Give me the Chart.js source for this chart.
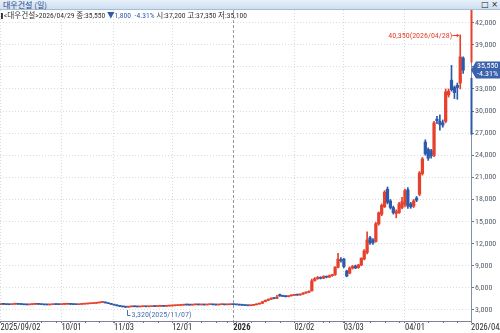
<!DOCTYPE html>
<html><head><meta charset="utf-8">
<script src="https://cdn.jsdelivr.net/npm/chart.js@4.4.1/dist/chart.umd.min.js"></script>
<style>
html,body{margin:0;padding:0;background:#fff;}
#wrap{position:relative;width:500px;height:333px;overflow:hidden;background:#fff;}
#title{position:absolute;left:0;top:0;width:500px;height:9px;background:linear-gradient(#e7f0fa,#cddff1);border-bottom:1px solid #a7bcd6;font:8px "Noto Sans CJK KR",sans-serif;line-height:9px;color:#27457c;}
#title .t{position:absolute;left:3px;top:0;}
#title .ic{position:absolute;right:2px;top:0;color:#222;font:8px "DejaVu Sans",sans-serif;line-height:9px;}
#info{position:absolute;left:1px;top:11px;font:8px "Roboto Condensed","Noto Sans CJK KR",sans-serif;line-height:10px;color:#333;white-space:nowrap;transform-origin:0 50%;}
#info .mk{display:inline-block;width:2px;height:6px;background:#333;margin-right:1px;vertical-align:-1px;}
#info .dn{color:#2d5aab;}
canvas{position:absolute;left:0;top:0;}
</style></head>
<body><div id="wrap">
<canvas id="c" width="500" height="333"></canvas>
<div id="title"><span class="t">대우건설 (일)</span><span class="ic">□ ×</span></div>
<div id="info"><span class="mk"></span>&lt;대우건설&gt;2026/04/29 종:35,550 <span class="dn">▼1,800 &nbsp;-4.31%</span> 시:37,200 고:37,350 저:35,100</div>
</div>
<script>
// ---- data ----
const HOLIDAYS = ['2025-10-03','2025-10-06','2025-10-07','2025-10-08','2025-10-09','2025-12-25','2025-12-31','2026-01-01','2026-02-16','2026-02-17','2026-02-18','2026-03-02'];
const openVals = [
3740,3770,3760,3730,3720,3780,3800,3770,3750,3710,3700,3740,3770,3790,3760,3730,3700,3690,3720,3750,3740,
3730,3760,3780,3800,3760,3740,3720,3760,3790,3820,3850,3870,3910,3960,4030,4060,3960,3860,
3760,3660,3560,3480,3420,3380,3430,3460,3440,3420,3450,3470,3440,3450,3480,3470,3500,3520,3490,3530,
3550,3580,3600,3620,3650,3700,3680,3660,3700,3730,3690,3700,3680,3720,3750,3700,3680,3720,3740,3700,3720,
3740,3720,3700,3670,3640,3600,3580,3630,3700,3800,3900,4120,4300,4450,4600,4560,5100,4950,4900,4800,4920,
4980,5050,5020,5150,5300,5400,5600,7000,7250,7400,7300,7550,7450,7650,7800,8800,9800,
9900,8300,8000,8700,8950,8750,9100,9900,10800,12800,12500,12300,14700,16000,17000,19400,17800,16900,16100,16200,16900,
17300,19300,17400,17100,18200,18700,21500,25800,24800,24600,24000,28900,28600,28400,28600,32200,34200,33200,33500,33800,37200];
const highVals = [
3790,3800,3780,3760,3790,3830,3820,3790,3770,3740,3760,3790,3810,3800,3780,3750,3720,3740,3770,3780,3760,
3780,3790,3820,3810,3780,3760,3770,3800,3830,3860,3890,3930,3980,4050,4110,4080,3980,3870,
3780,3680,3590,3510,3450,3450,3480,3490,3470,3470,3490,3480,3470,3500,3510,3520,3540,3530,3540,3570,
3590,3620,3640,3660,3720,3730,3700,3720,3750,3740,3720,3710,3740,3770,3760,3720,3740,3760,3750,3740,3760,
3780,3750,3720,3690,3660,3630,3650,3720,3820,3920,4150,4350,4500,4650,4680,5000,5150,5000,4950,4950,5050,
5100,5120,5200,5350,5450,5600,7200,7400,7550,7500,7650,7600,7750,7850,8900,10700,10100,
10000,8400,8850,9050,9100,9200,10100,11200,13600,13000,12700,14900,16300,17400,19200,19700,18000,17100,16600,17600,18300,
19400,19600,17600,18000,18400,21800,23700,26100,25000,24800,28600,29300,29500,28800,33000,33000,36200,33400,33800,40350,37350];
const lowVals = [
3720,3740,3710,3700,3710,3760,3760,3730,3700,3680,3690,3730,3750,3750,3720,3690,3670,3680,3710,3720,3710,
3720,3740,3760,3750,3720,3700,3710,3750,3780,3800,3830,3860,3900,3940,4000,3940,3840,3740,
3640,3540,3460,3400,3320,3360,3410,3420,3400,3400,3430,3420,3410,3440,3450,3460,3480,3480,3480,3510,
3530,3560,3580,3600,3640,3660,3640,3650,3690,3680,3670,3660,3670,3710,3690,3660,3670,3710,3690,3690,3700,
3710,3690,3660,3620,3580,3550,3560,3620,3690,3780,3880,4100,4250,4400,4500,4540,4850,4800,4750,4780,4880,
4950,4980,5000,5120,5250,5350,5550,6900,7150,7200,7250,7350,7400,7550,7700,8700,9500,
8700,7500,7900,8550,8600,8650,9000,9800,10600,11900,11900,12200,14500,15800,16900,17400,16700,16000,15500,16100,16700,
17000,16800,16800,16900,17700,18500,21300,24000,23300,23600,23800,28300,27400,27800,28400,31900,32700,31700,31600,33000,35100];
const closeVals = [
3770,3760,3730,3720,3780,3800,3770,3750,3710,3700,3740,3770,3790,3760,3730,3700,3690,3720,3750,3740,3730,
3760,3770,3800,3760,3740,3720,3760,3790,3820,3850,3870,3910,3960,4030,4060,3960,3860,3760,
3660,3560,3480,3420,3380,3430,3460,3440,3420,3450,3470,3440,3450,3480,3470,3500,3520,3490,3530,3550,
3580,3600,3620,3650,3700,3680,3660,3700,3730,3690,3700,3680,3720,3750,3700,3680,3720,3740,3700,3720,3740,
3720,3700,3670,3640,3600,3580,3630,3700,3800,3900,4120,4300,4450,4600,4560,4750,4900,4850,4800,4920,4980,
5050,5020,5150,5300,5400,5500,6950,7250,7400,7300,7550,7450,7650,7750,8800,9900,9700,
8900,7600,8700,8900,8700,9100,10000,11000,12500,12100,12100,14700,16200,17200,19000,17600,16900,16200,16400,17400,17700,
19200,17100,17000,17800,17900,21600,23500,24200,23600,23900,28400,28700,28200,28100,32600,32700,32900,32500,33200,37350,35550];
const yTickVals = [3000,6000,9000,12000,15000,18000,21000,24000,27000,30000,33000,36000,39000,42000];
const maxNote = {price:40350, date:'2026/04/28'};
const minNote = {price:3320, date:'2025/11/07'};
const lastInfo = {price:35550, pct:'-4.31%'};
const axisRed = [36600, 43720];
const axisBlue = [26800, 34500];

// ---- trading calendar ----
function tradingDays(){
  const out=[]; let t=Date.UTC(2025,8,2); const end=Date.UTC(2026,3,29);
  while(t<=end){ const d=new Date(t); const wd=d.getUTCDay(); const s=d.toISOString().slice(0,10);
    if(wd!==0&&wd!==6&&!HOLIDAYS.includes(s)) out.push(s); t+=86400000; }
  return out;
}
const dates = tradingDays();
const N = closeVals.length;
const majorIdx=[], majorLab=[];
dates.forEach((d,i)=>{
  if(i===0){majorIdx.push(0);majorLab.push(d.replace(/-/g,'/'));return;}
  if(d.slice(5,7)!==dates[i-1].slice(5,7)){
    majorIdx.push(i);
    majorLab.push(d.slice(5,7)==='01' ? d.slice(0,4) : d.slice(5).replace('-','/'));
  }
});
const weekStart = dates.map((d,i)=> i>0 && (new Date(d).getUTCDay() <= new Date(dates[i-1]).getUTCDay()));
const XMIN=-0.17, XMAX=161.7;
const lastLabel = dates[N-1].replace(/-/g,'/');
const yearIdx = majorLab.indexOf('2026');

const UP='#e5412c', DOWN='#2d5aab';
const NARROW='"Roboto Condensed","DejaVu Sans Condensed",sans-serif';
const colorOf = i => closeVals[i] >= openVals[i] ? UP : DOWN;
const idx = closeVals.map((_,i)=>i);

// fit info line width
(function(){ const el=document.getElementById('info'); const w=el.getBoundingClientRect().width; if(w>0) el.style.transform='scaleX('+(246/w)+')'; })();

const overlay = {
  id:'overlay',
  afterDraw(chart){
    const {ctx, chartArea:a, scales:{x,y}} = chart;
    ctx.save();
    // weekly minor ticks
    ctx.strokeStyle='#6f7785'; ctx.lineWidth=1;
    weekStart.forEach((w,i)=>{ if(!w) return; const px=Math.round(x.getPixelForValue(i))+0.5;
      ctx.beginPath(); ctx.moveTo(px,a.bottom); ctx.lineTo(px,a.bottom+2); ctx.stroke(); });
    // axis colour segments
    const ax=a.right+0.5;
    ctx.lineWidth=2;
    ctx.strokeStyle=UP; ctx.beginPath(); ctx.moveTo(ax,y.getPixelForValue(axisRed[1])); ctx.lineTo(ax,y.getPixelForValue(axisRed[0])); ctx.stroke();
    ctx.strokeStyle=DOWN; ctx.beginPath(); ctx.moveTo(ax,y.getPixelForValue(axisBlue[1])); ctx.lineTo(ax,y.getPixelForValue(axisBlue[0])); ctx.stroke();
    // price box
    const py=Math.round(y.getPixelForValue(lastInfo.price));
    ctx.fillStyle='#3a62ad';
    ctx.beginPath(); ctx.moveTo(a.right,py); ctx.lineTo(a.right+5,py-8.5); ctx.lineTo(500,py-8.5); ctx.lineTo(500,py+8.5); ctx.lineTo(a.right+5,py+8.5); ctx.closePath(); ctx.fill();
    ctx.fillStyle='#fff'; ctx.font='8px '+NARROW; ctx.textAlign='left'; ctx.textBaseline='middle';
    ctx.fillText(lastInfo.price.toLocaleString('en-US'), a.right+6, py-4);
    ctx.fillText(lastInfo.pct, a.right+6, py+4);
    // max note
    const iMax = highVals.indexOf(maxNote.price);
    const mx=x.getPixelForValue(iMax), my=Math.round(y.getPixelForValue(maxNote.price))+0.5;
    ctx.strokeStyle=UP; ctx.fillStyle=UP; ctx.lineWidth=1;
    ctx.beginPath(); ctx.moveTo(mx-8,my); ctx.lineTo(mx-1.5,my); ctx.stroke();
    ctx.beginPath(); ctx.moveTo(mx-1,my); ctx.lineTo(mx-3.5,my-2); ctx.lineTo(mx-3.5,my+2); ctx.closePath(); ctx.fill();
    ctx.textAlign='right'; ctx.font='8px '+NARROW;
    ctx.fillText(maxNote.price.toLocaleString('en-US')+'('+maxNote.date+')', mx-8, my);
    // min note
    const iMin = lowVals.indexOf(minNote.price);
    const nx=Math.round(x.getPixelForValue(iMin))+1.5, ny=Math.round(y.getPixelForValue(minNote.price));
    ctx.strokeStyle='#4a6fb3'; ctx.fillStyle='#4a6fb3';
    ctx.beginPath(); ctx.moveTo(nx,ny+2); ctx.lineTo(nx,ny+7.5); ctx.lineTo(nx+3,ny+7.5); ctx.stroke();
    ctx.textAlign='left';
    ctx.fillText(minNote.price.toLocaleString('en-US')+'('+minNote.date+')', nx+4, ny+7);
    ctx.restore();
  }
};

new Chart(document.getElementById('c'), {
  type:'bar',
  data:{ datasets:[
    {data: idx.map(i=>({x:i, y:[lowVals[i], highVals[i]]})), backgroundColor: idx.map(colorOf), barThickness:1, grouped:false, order:2},
    {data: idx.map(i=>({x:i, y:[openVals[i], closeVals[i]]})), backgroundColor: idx.map(colorOf), barThickness:2.6, grouped:false, minBarLength:1, order:1}
  ]},
  options:{
    responsive:false, animation:false, devicePixelRatio:1,
    layout:{padding:{top:10,left:0,right:0,bottom:0}},
    plugins:{legend:{display:false}, tooltip:{enabled:false}},
    scales:{
      x:{type:'linear', min:XMIN, max:XMAX, offset:false,
        afterBuildTicks:s=>{ s.ticks = majorIdx.map(v=>({value:v})).concat([{value:XMAX}]); },
        afterFit:s=>{ s.height=12; s.paddingLeft=0; s.paddingRight=0; },
        ticks:{autoSkip:false, maxRotation:0, minRotation:0, align:'start', padding:0, color:'#2b2b2b',
          callback:(v,i)=> i<majorLab.length ? majorLab[i] : lastLabel,
          font:ctx=>({family:NARROW, size:8.5, weight: ctx.index===yearIdx ? 'bold':'normal'})},
        grid:{offset:false, color:ctx=> ctx.index===majorIdx.length ? 'rgba(0,0,0,0)' : (ctx.index===yearIdx ? '#9a9a9a' : '#d6dbe3'),
          tickLength:2, tickColor:'#6f7785'},
        border:{color:'#7d8595', width:1, dash:ctx=> ctx.index===yearIdx ? [3,2] : [1,2]}
      },
      y:{type:'linear', position:'right', min:1500, max:43720,
        afterBuildTicks:s=>{ s.ticks = yTickVals.map(v=>({value:v})); },
        afterFit:s=>{ s.width=29; },
        ticks:{padding:1, color:'#555d6b', font:{family:NARROW, size:8}, callback:v=>v.toLocaleString('en-US')},
        grid:{color:'#d9dee6', tickLength:3, tickColor:'#6f7785'},
        border:{color:'#8190a8', width:1, dash:[1,2]}
      }
    }
  },
  plugins:[overlay]
});
</script>
</body></html>
